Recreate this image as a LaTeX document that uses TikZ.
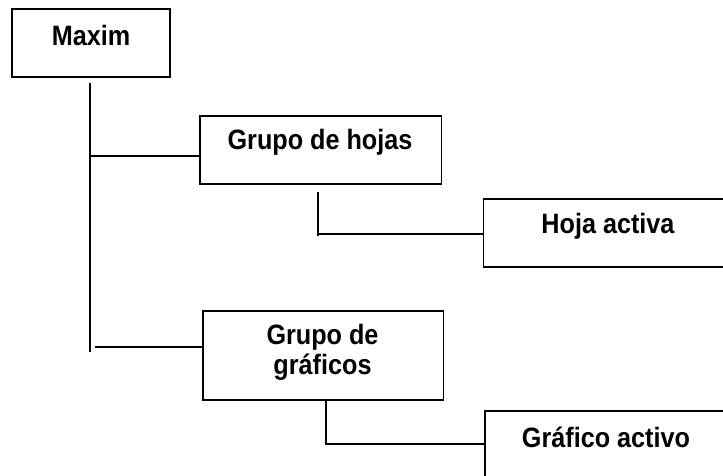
\documentclass[tikz,border=0pt]{standalone}
\usepackage{fontspec}
\newfontfamily\boxfont{Liberation Sans}[FakeStretch=0.9]
\begin{document}
\begin{tikzpicture}[x=1pt,y=-1pt,
  boxshape/.style={draw=black,line width=1.9pt,fill=white,inner sep=0pt},
  boxtext/.style={inner sep=0pt,align=center,font=\boxfont\bfseries\fontsize{28}{30}\selectfont},
  conn/.style={draw=black,line width=1.9pt}]
\useasboundingbox (0,0) rectangle (723,475);
\clip (0,0) rectangle (723,475);
% boxes
\node[boxshape,minimum width=158,minimum height=68] (maxim) at (91,43) {};
\node[boxtext] (maximt) at (91,35) {Maxim};
\node[boxshape,minimum width=241.5,minimum height=68] (hojas) at (320.75,150) {};
\node[boxtext] (hojast) at (320,142) {Grupo de hojas};
\node[boxshape,minimum width=250,minimum height=68] (hoja) at (608.5,233) {};
\node[boxtext] (hojat) at (608,226) {Hoja activa};
\node[boxshape,minimum width=240.5,minimum height=89] (graf) at (323.25,355.5) {};
\node[boxtext] (graft) at (322.5,352) {Grupo de\\gr\'aficos};
\node[boxshape,minimum width=244,minimum height=72] (grafa) at (607,447) {};
\node[boxtext] (grafat) at (606,437) {Gr\'afico activo};
% connector points
\coordinate (t0) at (90,83);
\coordinate (t1) at (90,156);
\coordinate (t2) at (90,352);
\coordinate (b2) at (95,347);
\coordinate (s1) at (318,192);
\coordinate (s1b) at (318,234);
\coordinate (s2) at (326,444);
% connectors
\draw[conn] (t0) -- (t2);
\draw[conn] (t1) -- (t1 -| hojas.west);
\draw[conn] (b2) -- (b2 -| graf.west);
\draw[conn] (s1) -- (318,236);
\draw[conn] (s1b) -- (s1b -| hoja.west);
\draw[conn] (s2 |- graf.south) -- (s2) -- (s2 -| grafa.west);
\end{tikzpicture}
\end{document}
